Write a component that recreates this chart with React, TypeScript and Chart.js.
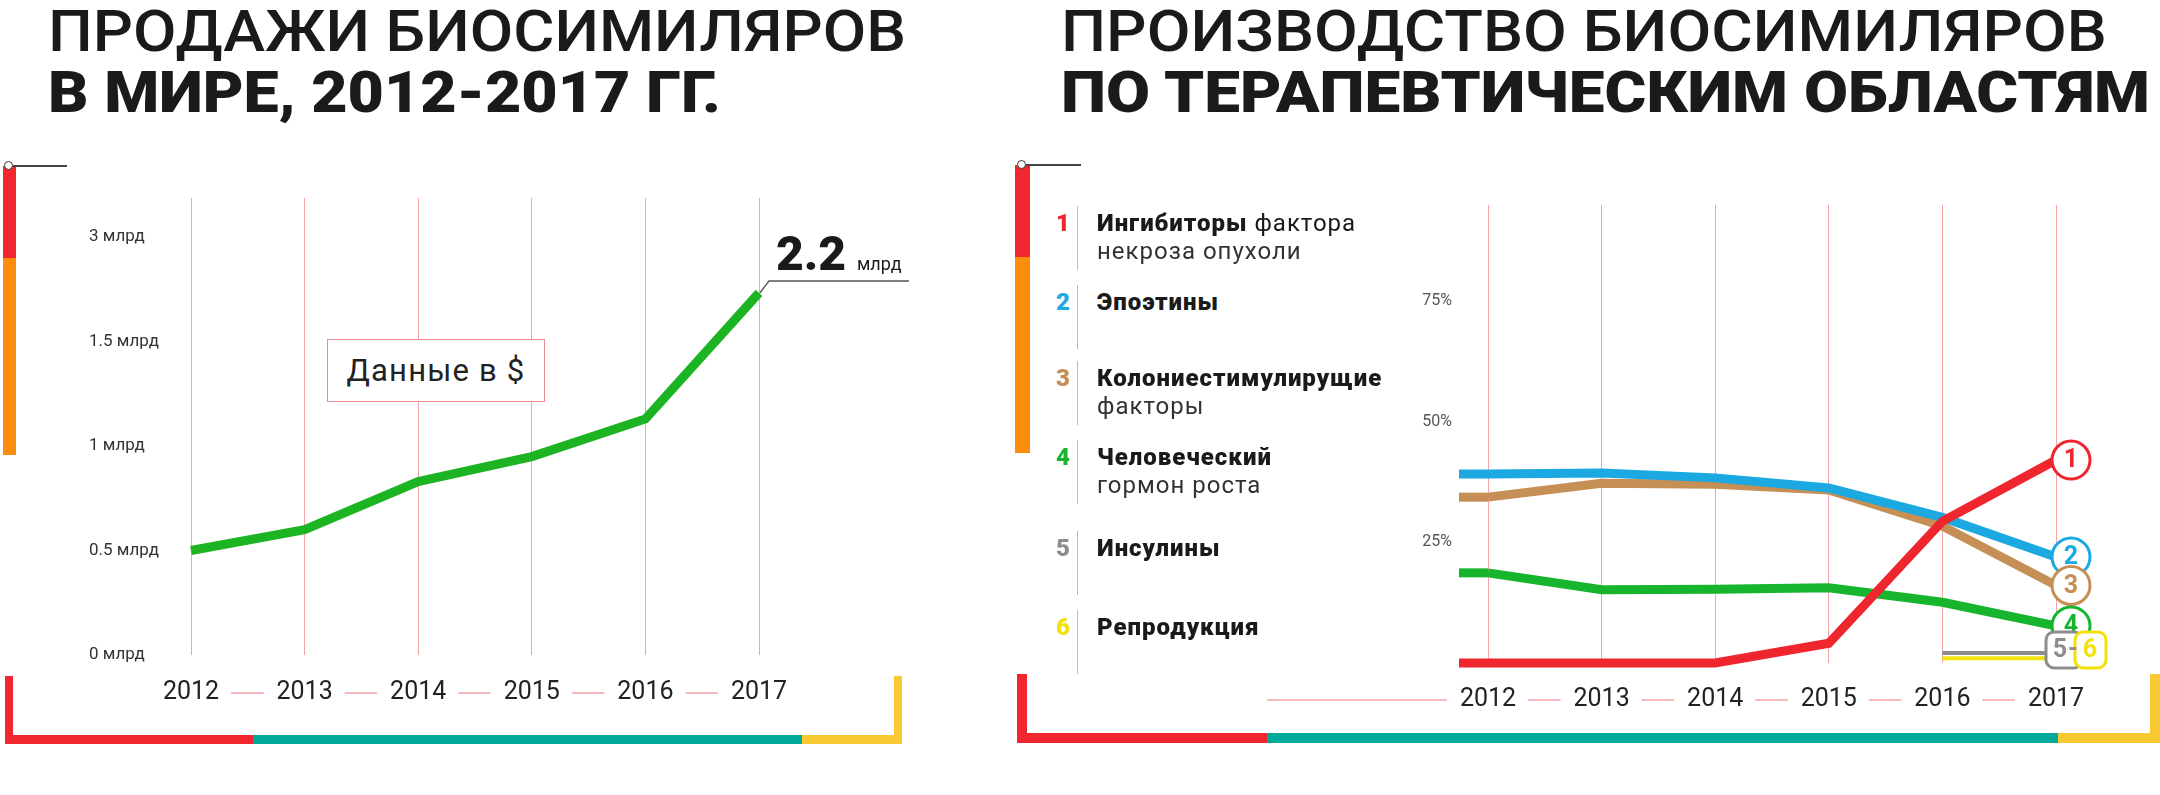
import React, { useEffect, useRef } from 'react'
import { Chart, registerables } from 'chart.js'

Chart.register(...registerables)

// ---- data ----
const years = ['2012', '2013', '2014', '2015', '2016', '2017']

// world sales of biosimilars, $ bn
const salesValues = [0.5, 0.6, 0.83, 0.95, 1.13, 2.2]
const salesTickValues = [0, 0.5, 1, 1.5, 3]
const salesTickLabels = ['0 млрд', '0.5 млрд', '1 млрд', '1.5 млрд', '3 млрд']
const salesUnit = 'млрд'
const salesNote = 'Данные в $'

// production share by therapeutic area, %
const tnfShare = [0, 0, 0, 4.1, 29.4, 42.1]
const epoetinShare = [39.2, 39.4, 38.4, 36.3, 30.2, 22.0]
const csfShare = [34.4, 37.3, 37.1, 35.9, 28.4, 16.1]
const hghShare = [18.7, 15.2, 15.3, 15.6, 12.6, 7.7]
const insulinShare = [null, null, null, null, 2.1, 2.1]
const reproShare = [null, null, null, null, 1.0, 1.0]
const shareTicks = [25, 50, 75]

const areaNums = ['1', '2', '3', '4', '5', '6']
const areaBold = ['Ингибиторы', 'Эпоэтины', 'Колониестимулирущие', 'Человеческий', 'Инсулины', 'Репродукция']
const areaRest = [' фактора', '', '', '', '', '']
const areaLine2 = ['некроза опухоли', '', 'факторы', 'гормон роста', '', '']
const areaColors = ['#ef262d', '#1ca9e2', '#c68f55', '#17b52d', '#8d8d8d', '#f3e20a']

const titleLeft = ['ПРОДАЖИ БИОСИМИЛЯРОВ', 'В МИРЕ, 2012-2017 ГГ.']
const titleRight = ['ПРОИЗВОДСТВО БИОСИМИЛЯРОВ', 'ПО ТЕРАПЕВТИЧЕСКИМ ОБЛАСТЯМ']

// ---- helpers ----
const PINK = '#f4a3a9'
const RED = '#f0272e'
const ORANGE = '#fb8c0c'
const TEAL = '#00a99a'
const GOLD = '#f8c933'

// the sales axis is drawn with evenly spaced, non-linear ticks
const toSalesAxis = (v: number) => {
  const t = salesTickValues
  for (let i = 0; i < t.length - 1; i++) {
    if (v <= t[i + 1] || i === t.length - 2) return i + (v - t[i]) / (t[i + 1] - t[i])
  }
  return 0
}

const tickDashes = (offsetY: number, lead: number) => ({
  id: 'tickDashes',
  afterDraw(chart: any) {
    const sx = chart.scales.x
    const y = chart.chartArea.bottom + offsetY
    const ctx = chart.ctx
    ctx.save()
    ctx.strokeStyle = PINK
    ctx.lineWidth = 1.5
    ctx.beginPath()
    for (let i = 0; i < sx.ticks.length - 1; i++) {
      const a = sx.getPixelForTick(i)
      const b = sx.getPixelForTick(i + 1)
      ctx.moveTo(a + 40, y)
      ctx.lineTo(b - 41, y)
    }
    if (lead > 0) {
      const a = sx.getPixelForTick(0)
      ctx.moveTo(a - 41 - lead, y)
      ctx.lineTo(a - 41, y)
    }
    ctx.stroke()
    ctx.restore()
  },
})

const SalesChart: React.FC = () => {
  const ref = useRef<HTMLCanvasElement | null>(null)

  useEffect(() => {
    if (!ref.current) return
    const note = {
      id: 'salesNote',
      afterDatasetsDraw(chart: any) {
        const pts = chart.getDatasetMeta(0).data
        const p = pts[pts.length - 1]
        const ctx = chart.ctx
        ctx.save()
        ctx.strokeStyle = '#555'
        ctx.lineWidth = 1.5
        ctx.beginPath()
        ctx.moveTo(p.x + 1, p.y)
        ctx.lineTo(p.x + 10, p.y - 12)
        ctx.lineTo(p.x + 150, p.y - 12)
        ctx.stroke()
        ctx.fillStyle = '#1a1a1a'
        ctx.textAlign = 'left'
        ctx.textBaseline = 'alphabetic'
        ctx.font = '900 48px Roboto'
        ctx.fillText(String(salesValues[salesValues.length - 1]), p.x + 17, p.y - 23)
        ctx.font = '400 18px Roboto'
        ctx.fillText(salesUnit, p.x + 98, p.y - 23)
        ctx.restore()
      },
    }
    const chart = new Chart(ref.current, {
      type: 'line',
      data: {
        labels: years,
        datasets: [
          {
            data: salesValues.map(toSalesAxis),
            borderColor: '#1cb422',
            borderWidth: 9,
            pointRadius: 0,
            tension: 0,
            fill: false,
            clip: false,
          } as any,
        ],
      },
      options: {
        responsive: false,
        maintainAspectRatio: false,
        animation: false,
        layout: { padding: { left: 9, top: 18, right: 171, bottom: 0 } },
        plugins: { legend: { display: false }, tooltip: { enabled: false } },
        scales: {
          x: {
            offset: false,
            grid: { color: PINK, lineWidth: 1, drawTicks: false },
            border: { display: false },
            ticks: {
              autoSkip: false,
              maxRotation: 0,
              padding: 23,
              color: '#222',
              font: { family: 'Roboto', size: 25 },
            },
            afterFit: (s: any) => {
              s.height = 65
            },
          },
          y: {
            min: 0,
            max: 4.375,
            grid: { display: false, drawTicks: false },
            border: { display: false },
            ticks: {
              stepSize: 1,
              includeBounds: false,
              crossAlign: 'far',
              padding: 0,
              color: '#333',
              font: { family: 'Roboto', size: 17 },
              callback: (v: any) => salesTickLabels[v] ?? '',
            },
            afterFit: (s: any) => {
              s.width = 102
            },
          },
        },
      } as any,
      plugins: [tickDashes(38, 0), note],
    })
    return () => chart.destroy()
  }, [])

  return (
    <canvas
      ref={ref}
      width={850}
      height={540}
      style={{ position: 'absolute', left: 80, top: 180, width: 850, height: 540 }}
    />
  )
}

const ShareChart: React.FC = () => {
  const ref = useRef<HTMLCanvasElement | null>(null)

  useEffect(() => {
    if (!ref.current) return
    const series = [tnfShare, epoetinShare, csfShare, hghShare, insulinShare, reproShare]

    const leadIn = {
      id: 'leadIn',
      beforeDatasetsDraw(chart: any) {
        const ctx = chart.ctx
        chart.data.datasets.forEach((ds: any, i: number) => {
          if (ds.data[0] == null) return
          const p = chart.getDatasetMeta(i).data[0]
          ctx.save()
          ctx.strokeStyle = ds.borderColor
          ctx.lineWidth = ds.borderWidth
          ctx.beginPath()
          ctx.moveTo(p.x - 29, p.y)
          ctx.lineTo(p.x, p.y)
          ctx.stroke()
          ctx.restore()
        })
      },
    }

    const badges = {
      id: 'badges',
      afterDatasetsDraw(chart: any) {
        const ctx = chart.ctx
        ctx.save()
        ctx.textAlign = 'center'
        ctx.textBaseline = 'middle'
        ctx.lineWidth = 3
        for (let i = 0; i < 4; i++) {
          const pts = chart.getDatasetMeta(i).data
          const p = pts[pts.length - 1]
          const cx = p.x + 15
          ctx.beginPath()
          ctx.arc(cx, p.y, 19, 0, Math.PI * 2)
          ctx.fillStyle = '#fff'
          ctx.fill()
          ctx.strokeStyle = areaColors[i]
          ctx.stroke()
          ctx.fillStyle = areaColors[i]
          ctx.font = '700 25px Roboto'
          ctx.fillText(areaNums[i], cx, p.y + 1)
        }
        const g = chart.getDatasetMeta(4).data
        const gp = g[g.length - 1]
        const cy = gp.y - 3
        ctx.beginPath()
        ctx.roundRect(gp.x - 10, cy - 18, 36, 36, 8)
        ctx.fillStyle = '#fff'
        ctx.fill()
        ctx.strokeStyle = areaColors[4]
        ctx.stroke()
        ctx.beginPath()
        ctx.roundRect(gp.x + 19, cy - 18, 31, 36, 8)
        ctx.fill()
        ctx.strokeStyle = areaColors[5]
        ctx.stroke()
        ctx.font = '700 25px Roboto'
        ctx.fillStyle = areaColors[4]
        ctx.fillText(areaNums[4], gp.x + 4, cy + 1)
        ctx.fillText('-', gp.x + 17, cy + 1)
        ctx.fillStyle = areaColors[5]
        ctx.fillText(areaNums[5], gp.x + 34, cy + 1)
        ctx.restore()
      },
    }

    const chart = new Chart(ref.current, {
      type: 'line',
      data: {
        labels: years,
        datasets: series.map((d, i) => ({
          data: d,
          borderColor: areaColors[i],
          borderWidth: i < 4 ? 9 : 4,
          pointRadius: 0,
          tension: 0,
          fill: false,
          clip: false,
          spanGaps: false,
        })) as any,
      },
      options: {
        responsive: false,
        maintainAspectRatio: false,
        animation: false,
        layout: { padding: { left: 0, top: 15, right: 84, bottom: 0 } },
        plugins: { legend: { display: false }, tooltip: { enabled: false } },
        scales: {
          x: {
            offset: false,
            grid: { color: PINK, lineWidth: 1, drawTicks: false },
            border: { display: false },
            ticks: {
              autoSkip: false,
              maxRotation: 0,
              padding: 22,
              color: '#222',
              font: { family: 'Roboto', size: 25 },
            },
            afterFit: (s: any) => {
              s.height = 67
            },
          },
          y: {
            min: 0,
            max: 95,
            // tick length (not drawn) gives the gap between labels and plot
            grid: { display: false, drawTicks: true, tickLength: 36 },
            border: { display: false },
            ticks: {
              stepSize: 25,
              includeBounds: false,
              padding: 0,
              color: '#555',
              font: { family: 'Roboto', size: 16 },
              callback: (v: any) => (shareTicks.includes(v) ? v + '%' : ''),
            },
            afterFit: (s: any) => {
              s.width = 238
            },
          },
        },
      } as any,
      plugins: [leadIn, badges, tickDashes(37, 180)],
    })
    return () => chart.destroy()
  }, [])

  return (
    <canvas
      ref={ref}
      width={890}
      height={540}
      style={{ position: 'absolute', left: 1250, top: 190, width: 890, height: 540 }}
    />
  )
}

const box = (left: number, top: number, width: number, height: number, background: string) => (
  <div style={{ position: 'absolute', left, top, width, height, background }} />
)

const Pin: React.FC<{ x: number; y: number; len: number }> = ({ x, y, len }) => (
  <>
    {box(x + 4, y - 1, len, 2, '#444')}
    <div
      style={{
        position: 'absolute',
        left: x - 5,
        top: y - 5,
        width: 7,
        height: 7,
        borderRadius: '50%',
        border: '1.5px solid #333',
        background: '#fff',
      }}
    />
  </>
)

const legendCenters = [223, 302, 378, 457, 548, 627]

const Legend: React.FC = () => (
  <>
    {areaBold.map((b, i) => {
      const c = legendCenters[i]
      return (
        <React.Fragment key={b}>
          {box(1077, c - 17, 1, 64, PINK)}
          <div
            style={{
              position: 'absolute',
              left: 1052,
              width: 22,
              top: c - 14,
              lineHeight: '28px',
              fontSize: 24,
              fontWeight: 900,
              color: areaColors[i],
              textAlign: 'center',
            }}
          >
            {areaNums[i]}
          </div>
          <div
            style={{
              position: 'absolute',
              left: 1097,
              top: c - 14,
              lineHeight: '28px',
              fontSize: 24,
              color: '#1a1a1a',
              whiteSpace: 'nowrap',
            }}
          >
            <span style={{ fontWeight: 900, letterSpacing: 1 }}>{b}</span>
            <span style={{ fontWeight: 400, letterSpacing: 1 }}>{areaRest[i]}</span>
            {areaLine2[i] && (
              <div style={{ fontWeight: 400, letterSpacing: 1, color: '#333' }}>{areaLine2[i]}</div>
            )}
          </div>
        </React.Fragment>
      )
    })}
  </>
)

const Titles: React.FC = () => (
  <svg width={2160} height={130} style={{ position: 'absolute', left: 0, top: 0 }}>
    <g fontFamily="Roboto, sans-serif" fontSize={58} fill="#1a1a1a">
      <text x={48} y={51} fontWeight={500} textLength={858} lengthAdjust="spacingAndGlyphs">
        {titleLeft[0]}
      </text>
      <text x={48} y={112} fontWeight={900} textLength={673} lengthAdjust="spacingAndGlyphs">
        {titleLeft[1]}
      </text>
      <text x={1061} y={51} fontWeight={500} textLength={1046} lengthAdjust="spacingAndGlyphs">
        {titleRight[0]}
      </text>
      <text x={1061} y={112} fontWeight={900} textLength={1089} lengthAdjust="spacingAndGlyphs">
        {titleRight[1]}
      </text>
    </g>
  </svg>
)

export default function App() {
  return (
    <div
      style={{
        position: 'absolute',
        left: 0,
        top: 0,
        width: 2160,
        height: 795,
        background: '#fff',
        overflow: 'hidden',
        fontFamily: 'Roboto, sans-serif',
      }}
    >
      <Titles />

      {/* left panel frame */}
      {box(3, 166, 13, 92, RED)}
      {box(3, 258, 13, 197, ORANGE)}
      <Pin x={9} y={166} len={54} />
      {box(5, 676, 8, 68, RED)}
      {box(5, 735, 248, 9, RED)}
      {box(253, 735, 549, 9, TEAL)}
      {box(802, 735, 100, 9, GOLD)}
      {box(894, 676, 8, 68, GOLD)}

      <SalesChart />
      <div
        style={{
          position: 'absolute',
          left: 327,
          top: 339,
          width: 216,
          height: 61,
          border: '1px solid #ee8a91',
          background: '#fff',
          display: 'flex',
          alignItems: 'center',
          justifyContent: 'center',
          fontSize: 31,
          letterSpacing: 1.2,
          color: '#222',
        }}
      >
        {salesNote}
      </div>

      {/* right panel frame */}
      {box(1015, 165, 15, 92, RED)}
      {box(1015, 257, 15, 196, ORANGE)}
      <Pin x={1022} y={165} len={55} />
      {box(1017, 674, 10, 69, RED)}
      {box(1017, 733, 250, 10, RED)}
      {box(1267, 733, 791, 10, TEAL)}
      {box(2058, 733, 102, 10, GOLD)}
      {box(2150, 674, 10, 69, GOLD)}

      <ShareChart />
      <Legend />
    </div>
  )
}
